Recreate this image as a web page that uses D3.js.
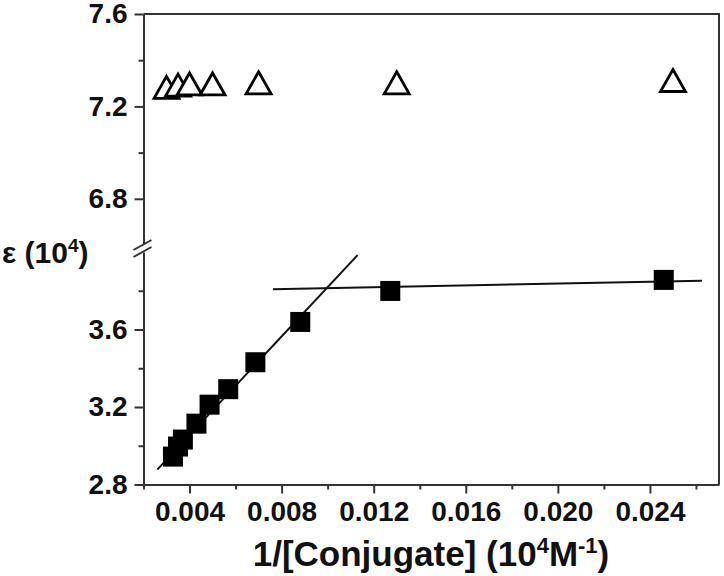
<!DOCTYPE html>
<html>
<head>
<meta charset="utf-8">
<script src="https://cdn.jsdelivr.net/npm/d3@7"></script>
<style>
  body { margin: 0; background: #fff; }
  svg { display: block; font-family: "Liberation Sans", Arial, sans-serif; font-weight: bold; }
</style>
</head>
<body>
<div id="chart"></div>
<script>
// open triangles (upper panel)
var triX = [0.0030, 0.0035, 0.0040, 0.0050, 0.0070, 0.0130, 0.0250];
var triY = [7.280, 7.290, 7.295, 7.295, 7.300, 7.300, 7.310];

// filled squares (lower panel)
var sqX = [0.00328, 0.00350, 0.00371, 0.00430, 0.00487, 0.00568, 0.00686, 0.00881, 0.01272, 0.02460];
var sqY = [2.944, 2.996, 3.032, 3.114, 3.212, 3.292, 3.431, 3.639, 3.799, 3.856];

// fitted lines, end points
var fit1X = [0.0026, 0.0113], fit1Y = [2.877, 3.984];
var fit2X = [0.00762, 0.02626], fit2Y = [3.808, 3.852];

var xTicks = [0.004, 0.008, 0.012, 0.016, 0.020, 0.024];
var xMinor = [0.002, 0.006, 0.010, 0.014, 0.018, 0.022, 0.026];
var yUpTicks = [6.8, 7.2, 7.6], yUpMinor = [7.0, 7.4];
var yLoTicks = [2.8, 3.2, 3.6], yLoMinor = [3.0, 3.4, 3.8];

var W = 724, H = 576;
var mLeft = 143.5, mRight = 719, mTop = 14, mBottom = 484.5;

var svg = d3.select("#chart").append("svg")
    .attr("width", W).attr("height", H);

var x = d3.scaleLinear().domain([0.002, 0.027]).range([mLeft, mRight]);
var yUp = d3.scaleLinear().domain([6.6, 7.6]).range([245, mTop]);
var yLo = d3.scaleLinear().domain([2.8, 4.0]).range([mBottom, 252]);

var axisColor = "#333";
var labFont = 28;

// frame top + right
svg.append("path")
    .attr("d", "M" + mLeft + "," + mTop + "H" + mRight + "V" + mBottom)
    .attr("fill", "none").attr("stroke", axisColor).attr("stroke-width", 2);

// x axis
var gx = svg.append("g").attr("transform", "translate(0," + mBottom + ")");
gx.call(d3.axisBottom(x).tickValues(xTicks).tickSize(9).tickSizeOuter(0)
    .tickPadding(8).tickFormat(d3.format(".3f")));
gx.append("g").call(d3.axisBottom(x).tickValues(xMinor).tickSize(5).tickFormat(""))
    .select(".domain").remove();

// y axis, upper part
var gyU = svg.append("g").attr("transform", "translate(" + mLeft + ",0)");
gyU.call(d3.axisLeft(yUp).tickValues(yUpTicks).tickSize(9).tickSizeOuter(0)
    .tickPadding(7).tickFormat(d3.format(".1f")));
gyU.append("g").call(d3.axisLeft(yUp).tickValues(yUpMinor).tickSize(5).tickFormat(""))
    .select(".domain").remove();

// y axis, lower part
var gyL = svg.append("g").attr("transform", "translate(" + mLeft + ",0)");
gyL.call(d3.axisLeft(yLo).tickValues(yLoTicks).tickSize(9).tickSizeOuter(0)
    .tickPadding(7).tickFormat(d3.format(".1f")));
gyL.append("g").call(d3.axisLeft(yLo).tickValues(yLoMinor).tickSize(5).tickFormat(""))
    .select(".domain").remove();

[gx, gyU, gyL].forEach(function (g) {
    g.attr("font-size", labFont).attr("font-family", "'Liberation Sans', Arial, sans-serif");
});
svg.selectAll(".domain, .tick line").attr("stroke", axisColor).attr("stroke-width", 2);
svg.selectAll(".tick text").attr("fill", "#111").style("font-weight", "bold");

// axis break marks
svg.append("rect").attr("x", mLeft - 4).attr("y", 245).attr("width", 8).attr("height", 7).attr("fill", "#fff");
[-3.5, 3.5].forEach(function (o) {
    svg.append("line")
        .attr("x1", mLeft - 10).attr("y1", 248.5 + o + 5)
        .attr("x2", mLeft + 8).attr("y2", 248.5 + o - 5)
        .attr("stroke", axisColor).attr("stroke-width", 2);
});

// fit lines
var line = d3.line().x(function (d) { return x(d[0]); }).y(function (d) { return yLo(d[1]); });
svg.append("path").attr("d", line(d3.zip(fit1X, fit1Y)))
    .attr("fill", "none").attr("stroke", "#111").attr("stroke-width", 2);
svg.append("path").attr("d", line(d3.zip(fit2X, fit2Y)))
    .attr("fill", "none").attr("stroke", "#111").attr("stroke-width", 2);

// squares
svg.append("g").selectAll("rect")
    .data(d3.zip(sqX, sqY))
    .enter().append("rect")
    .attr("x", function (d) { return x(d[0]) - 10; })
    .attr("y", function (d) { return yLo(d[1]) - 10; })
    .attr("width", 20).attr("height", 20)
    .attr("fill", "#000");

// triangles
svg.append("g").selectAll("path")
    .data(d3.zip(triX, triY))
    .enter().append("path")
    .attr("transform", function (d) { return "translate(" + x(d[0]) + "," + yUp(d[1]) + ")"; })
    .attr("d", "M0,-11.5L12.5,10.5L-12.5,10.5Z")
    .attr("fill", "#fff").attr("stroke", "#000").attr("stroke-width", 2.8)
    .attr("stroke-linejoin", "miter");

// axis titles
var yt = svg.append("text").attr("x", 2).attr("y", 263)
    .attr("fill", "#111").style("font-size", "30px");
yt.append("tspan").text("\u03b5 (10");
yt.append("tspan").attr("dy", -11).style("font-size", "19px").text("4");
yt.append("tspan").attr("dy", 11).text(")");

var xt = svg.append("text").attr("x", 431).attr("y", 566)
    .attr("text-anchor", "middle").attr("fill", "#111").style("font-size", "35px");
xt.append("tspan").text("1/[Conjugate] (10");
xt.append("tspan").attr("dy", -13).style("font-size", "22px").text("4");
xt.append("tspan").attr("dy", 13).text("M");
xt.append("tspan").attr("dy", -13).style("font-size", "22px").text("-1");
xt.append("tspan").attr("dy", 13).text(")");
</script>
</body>
</html>
